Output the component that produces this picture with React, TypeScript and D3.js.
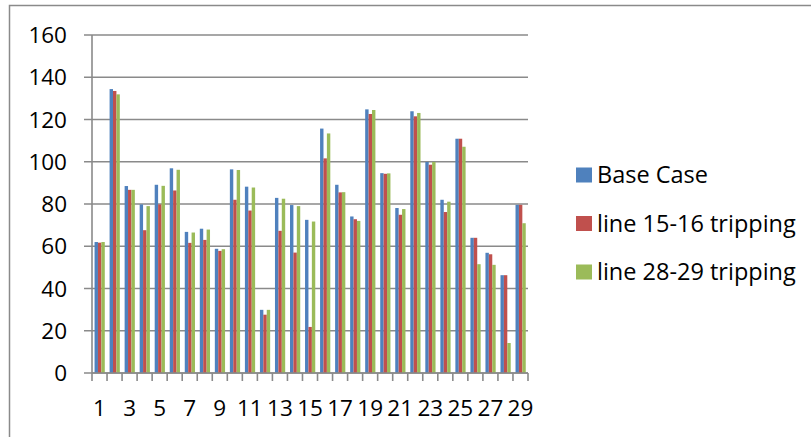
import React from "react";
import * as d3 from "d3";

// Bus numbers 1..29
const categories: string[] = Array.from({ length: 29 }, (_, i) => String(i + 1));

const baseCase: number[] = [
  62, 134.4, 88.5, 79.8, 89.1, 96.9, 66.8, 68.3, 58.8, 96.4,
  88.2, 29.9, 82.9, 79.5, 72.5, 115.7, 89.1, 74.1, 124.8, 94.6,
  78.1, 123.9, 99.9, 82, 110.9, 64, 56.9, 46.3, 79.6,
];
const line1516: number[] = [
  61.7, 133.5, 86.7, 67.6, 79.8, 86.4, 61.6, 63.0, 57.8, 82.0,
  76.9, 27.6, 67.3, 57.0, 21.8, 101.6, 85.5, 72.8, 122.6, 94.3,
  74.9, 121.5, 98.6, 76.2, 110.9, 64, 56.2, 46.3, 79.6,
];
const line2829: number[] = [
  62, 131.9, 86.7, 79, 88.6, 96.2, 66.5, 67.9, 58.6, 96.1,
  87.8, 29.9, 82.5, 79, 71.7, 113.4, 85.6, 72, 124.5, 94.5,
  77.6, 123.1, 99.9, 81.1, 107.1, 51.5, 51.2, 14.2, 70.9,
];

const seriesNames: string[] = ["Base Case", "line 15-16 tripping", "line 28-29 tripping"];
const seriesColors: string[] = ["#4F81BD", "#C0504D", "#9BBB59"];
const yTicks: number[] = [0, 20, 40, 60, 80, 100, 120, 140, 160];

const W = 811;
const H = 437;
const left = 92;
const right = 528;
const top = 35;
const bottom = 373;
const font = "'Open Sans', 'Liberation Sans', sans-serif";
const gridColor = "#8a8a8a";

export default function App() {
  const series = [baseCase, line1516, line2829];
  const x = d3.scaleBand<string>().domain(categories).range([left, right]).paddingInner(0).paddingOuter(0);
  const inner = d3
    .scaleBand<string>()
    .domain(seriesNames)
    .range([x.bandwidth() * 0.17, x.bandwidth() * 0.85]);
  const y = d3.scaleLinear().domain([0, 160]).range([bottom, top]);

  const tickXs = categories.map((c) => x(c) as number).concat([right]);

  return (
    <svg
      width={W}
      height={H}
      style={{ position: "absolute", left: 0, top: 0, background: "#fff" }}
      fontFamily={font}
    >
      {/* chart frame */}
      <rect x={9.5} y={5.5} width={W} height={H} fill="none" stroke={gridColor} strokeWidth={1.5} />

      {/* horizontal gridlines and y labels */}
      {yTicks.map((t) => (
        <g key={t}>
          <line x1={left - 8} x2={right} y1={y(t)} y2={y(t)} stroke={gridColor} strokeWidth={1.6} />
          <text x={67} y={y(t)} dy="0.36em" textAnchor="end" fontSize={22.5} fill="#000">
            {t}
          </text>
        </g>
      ))}

      {/* y axis */}
      <line x1={left} x2={left} y1={top} y2={bottom} stroke={gridColor} strokeWidth={1.6} />

      {/* bars */}
      {series.map((vals, si) =>
        vals.map((v, i) => (
          <rect
            key={`${si}-${i}`}
            x={(x(categories[i]) as number) + (inner(seriesNames[si]) as number)}
            y={y(v)}
            width={inner.bandwidth()}
            height={bottom - y(v)}
            fill={seriesColors[si]}
          />
        ))
      )}

      {/* x axis with ticks */}
      <line x1={left} x2={right} y1={bottom} y2={bottom} stroke={gridColor} strokeWidth={1.6} />
      {tickXs.map((tx, i) => (
        <line key={i} x1={tx} x2={tx} y1={bottom} y2={bottom + 8} stroke={gridColor} strokeWidth={1.6} />
      ))}
      {categories.map((c, i) =>
        i % 2 === 0 ? (
          <text
            key={c}
            x={(x(c) as number) + x.bandwidth() / 2}
            y={416}
            textAnchor="middle"
            fontSize={22.5}
            fill="#000"
          >
            {c}
          </text>
        ) : null
      )}

      {/* legend */}
      {seriesNames.map((name, i) => (
        <g key={name} transform={`translate(576, ${175 + i * 48.5})`}>
          <rect x={0} y={-7.5} width={16} height={15} fill={seriesColors[i]} />
          <text x={21} y={0} dy="0.36em" fontSize={23.5} fill="#000">
            {name}
          </text>
        </g>
      ))}
    </svg>
  );
}
